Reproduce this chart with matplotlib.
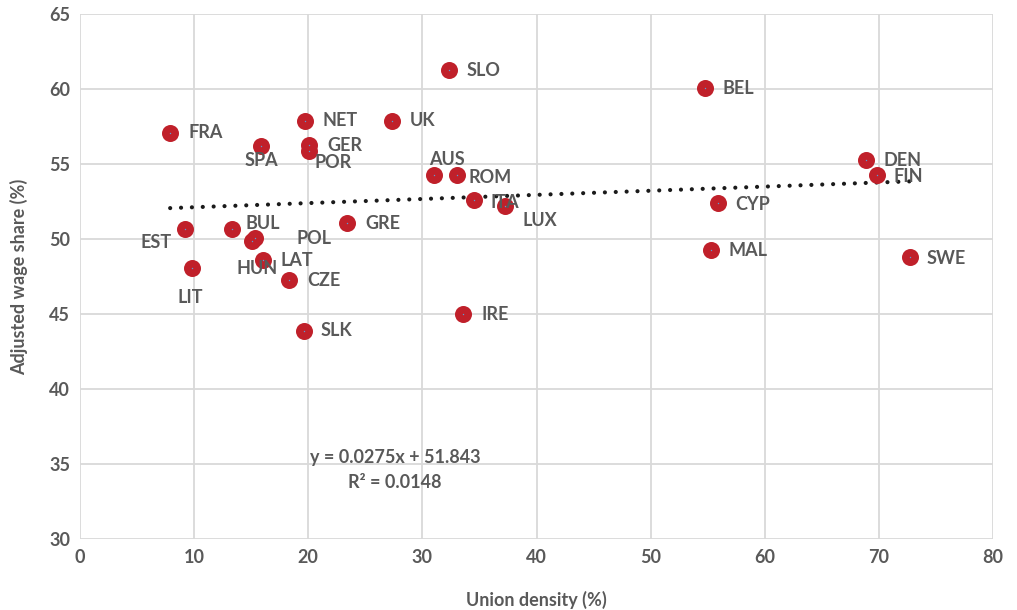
import matplotlib
matplotlib.use('Agg')
import matplotlib.pyplot as plt

countries = ['FRA', 'SPA', 'NET', 'GER', 'POR', 'UK', 'SLO', 'BEL', 'AUS', 'ROM',
             'ITA', 'LUX', 'GRE', 'EST', 'BUL', 'POL', 'HUN', 'LAT', 'LIT', 'CZE',
             'SLK', 'IRE', 'CYP', 'MAL', 'DEN', 'FIN', 'SWE']
union_density = [7.9, 15.9, 19.7, 20.1, 20.1, 27.3, 32.3, 54.8, 31.0, 33.0,
                 34.5, 37.2, 23.4, 9.2, 13.3, 15.3, 15.1, 16.0, 9.8, 18.3,
                 19.6, 33.6, 55.9, 55.3, 68.9, 69.8, 72.7]
wage_share = [57.1, 56.2, 57.9, 56.3, 55.9, 57.9, 61.3, 60.1, 54.3, 54.3,
              52.6, 52.2, 51.1, 50.7, 50.7, 50.1, 49.9, 48.6, 48.1, 47.3,
              43.9, 45.0, 52.4, 49.3, 55.3, 54.3, 48.8]

# trendline as reported by the spreadsheet
slope = 0.0275
intercept = 51.843
r_squared = 0.0148

# label offsets in pixels (dx, dy, ha)
label_pos = {
    'FRA': (18, 0, 'left'), 'SPA': (0, -14, 'center'), 'NET': (18, 0, 'left'),
    'GER': (18, -1, 'left'), 'POR': (5, -12, 'left'), 'UK': (18, 0, 'left'),
    'SLO': (18, -1, 'left'), 'BEL': (17, -1, 'left'), 'AUS': (13, 15, 'center'),
    'ROM': (12, -3, 'left'), 'ITA': (17, -3, 'left'), 'LUX': (18, -14, 'left'),
    'GRE': (18, -1, 'left'), 'EST': (-13, -14, 'right'), 'BUL': (14, 5, 'left'),
    'POL': (42, -1, 'left'), 'HUN': (5, -28, 'center'), 'LAT': (18, -1, 'left'),
    'LIT': (-2, -30, 'center'), 'CZE': (18, -1, 'left'), 'SLK': (17, 0, 'left'),
    'IRE': (18, -1, 'left'), 'CYP': (17, -1, 'left'), 'MAL': (17, -1, 'left'),
    'DEN': (17, -1, 'left'), 'FIN': (17, -2, 'left'), 'SWE': (17, -2, 'left'),
}

gray = '#595959'
red = '#C0202A'
fs = 13

fig = plt.figure(figsize=(10.17, 6.10), dpi=100)
ax = fig.add_axes([80 / 1017, 1 - 539 / 610, (993 - 80) / 1017, (539 - 14) / 610])

ax.scatter(union_density, wage_share, s=150, color=red, zorder=3, linewidths=0)
ax.scatter(union_density, wage_share, s=1, color='#5B9BD5', zorder=4, linewidths=0)

xs = [min(union_density), max(union_density)]
ax.plot(xs, [slope * x + intercept for x in xs], color='#1a1a1a', lw=3.0,
        linestyle=(0, (0.01, 2.6)), dash_capstyle='round', zorder=2)

for c, x, y in zip(countries, union_density, wage_share):
    dx, dy, ha = label_pos[c]
    ax.annotate(c, (x, y), xytext=(dx, dy), textcoords='offset pixels',
                ha=ha, va='center', fontsize=fs, fontweight='bold', color=gray,
                family='Lato', zorder=5)

ax.text(27.6, 35.4, f'y = {slope}x + {intercept}', ha='center', va='center',
        fontsize=fs, fontweight='bold', color=gray, family='Lato')
ax.text(27.6, 33.8, f'R² = {r_squared}', ha='center', va='center',
        fontsize=fs, fontweight='bold', color=gray, family='Lato')

ax.set_xlim(0, 80)
ax.set_ylim(30, 65)
ax.set_xticks(range(0, 81, 10))
ax.set_yticks(range(30, 66, 5))
ax.grid(True, color='#D9D9D9', lw=1.3)
ax.set_axisbelow(True)
for s in ax.spines.values():
    s.set_visible(False)
ax.tick_params(length=0, labelsize=fs, labelcolor=gray, pad=7)
for lab in ax.get_xticklabels() + ax.get_yticklabels():
    lab.set_fontweight('bold')
    lab.set_family('Lato')

ax.set_xlabel('Union density (%)', fontsize=fs, fontweight='bold', color=gray,
              family='Lato', labelpad=18)
ax.set_ylabel('Adjusted wage share (%)', fontsize=fs, fontweight='bold', color=gray,
              family='Lato', labelpad=15)

fig.savefig('out.png', dpi=100)
